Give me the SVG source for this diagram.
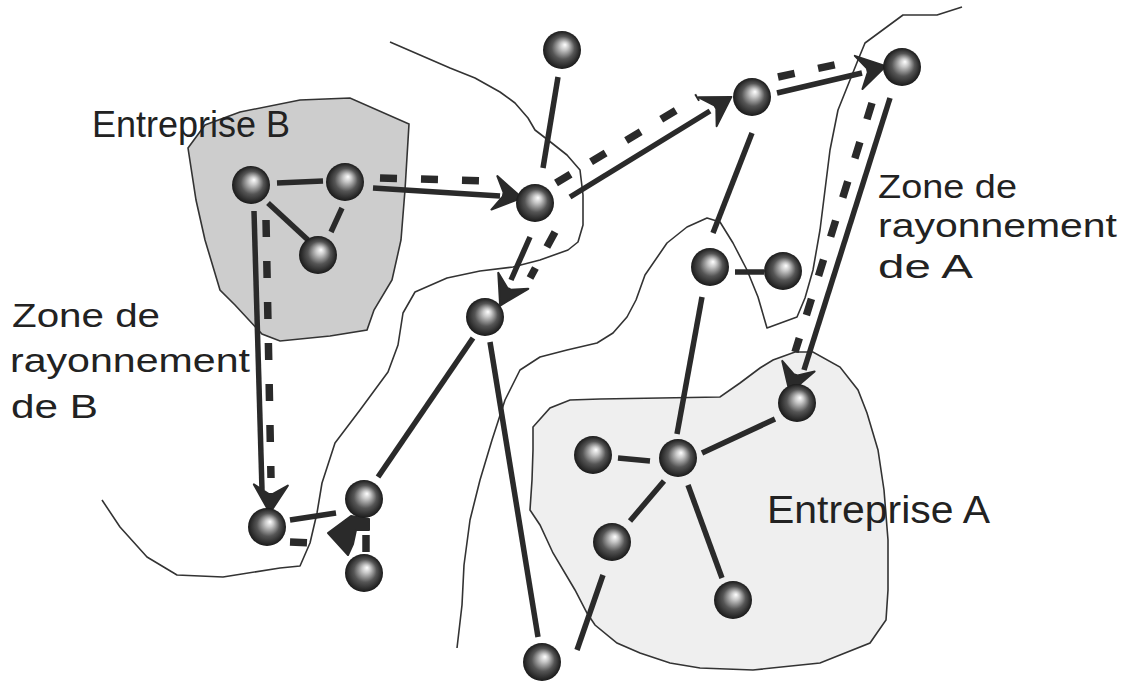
<svg xmlns="http://www.w3.org/2000/svg" xmlns:xlink="http://www.w3.org/1999/xlink" width="1129" height="686" viewBox="0 0 1129 686">
<style>
.bnd{fill:none;stroke:#333;stroke-width:1.6;stroke-linejoin:round}
.sol{fill:none;stroke:#2a2a2a;stroke-width:5.5;stroke-linecap:butt}
.dsh{fill:none;stroke:#2a2a2a;stroke-width:7.5;stroke-dasharray:17 24}
.ah{fill:#2a2a2a;stroke:#2a2a2a;stroke-width:2;stroke-linejoin:round}
.node{fill:url(#sph)}
.lbl{font-family:"Liberation Sans",Arial,sans-serif;fill:#222}
</style>
<defs>
<radialGradient id="sph" cx="50%" cy="50%" r="50%" fx="58%" fy="36%">
<stop offset="0" stop-color="#ffffff"/>
<stop offset="0.22" stop-color="#c8c8c8"/>
<stop offset="0.6" stop-color="#555555"/>
<stop offset="1" stop-color="#1a1a1a"/>
</radialGradient>
<path id="ah" d="M4,0 L-24,-17 L-15,-2 L-15,2 L-24,17 Z"/>
</defs>
<rect width="1129" height="686" fill="#ffffff"/>

<g id="regions">
<path id="entrepriseB" d="M188,148 L205,125 L240,112 L300,100 L350,98 L409,124 L405,190 L401,240 L392,280 L374,310 L367,330 L330,336 L280,341 L262,334 L235,305 L220,290 L205,240 L196,200 Z" fill="#cdcdcd" stroke="#333" stroke-width="1.6"/>
<path id="entrepriseA" d="M533,450 L533,427 L550,408 L570,400 L600,399 L720,397 L740,383 L760,368 L773,360 L795,352 L813,352 L840,367 L858,390 L867,413 L878,450 L884,490 L888,540 L888,590 L886,620 L870,643 L840,655 L820,663 L753,670 L700,668 L670,663 L640,653 L617,643 L595,625 L587,613 L575,590 L553,553 L540,525 L530,510 L532,480 Z" fill="#efefef" stroke="#333" stroke-width="1.6"/>
<path id="zoneB" class="bnd" d="M390,42 L420,55 L450,68 L475,78 L500,92 L515,103 L528,118 L535,130 L548,140 L567,155 L580,170 L583,195 L583,225 L578,242 L568,250 L540,260 L513,267 L480,271 L447,278 L415,292 L403,313 L398,345 L388,372 L360,410 L335,443 L322,483 L317,513 L310,543 L300,566 L280,568 L223,577 L177,575 L147,557 L120,527 L102,500"/>
<path id="zoneA" class="bnd" d="M457,648 L462,605 L464,565 L470,520 L480,480 L492,440 L505,400 L520,370 L540,357 L567,350 L597,343 L613,333 L627,317 L636,300 L645,275 L667,243 L687,227 L707,218 L720,222 L733,243 L747,270 L758,297 L767,328 L797,317 L805,298 L813,270 L820,230 L825,190 L830,150 L838,110 L848,85 L858,60 L865,43 L903,15 L937,15 L962,7"/>
</g>

<g id="connectors">
<line class="sol" x1="277" y1="183" x2="323" y2="181"/>
<line class="sol" x1="268" y1="203" x2="308" y2="240"/>
<line class="sol" x1="342" y1="208" x2="331" y2="232"/>
<line class="sol" x1="558" y1="77" x2="543" y2="168"/>
<line class="sol" x1="752" y1="133" x2="713" y2="233"/>
<line class="sol" x1="735" y1="272" x2="764" y2="272"/>
<line class="sol" x1="702" y1="297" x2="677" y2="434"/>
<line class="sol" x1="775" y1="419" x2="702" y2="453"/>
<line class="sol" x1="618" y1="458" x2="650" y2="461"/>
<line class="sol" x1="664" y1="481" x2="630" y2="521"/>
<line class="sol" x1="688" y1="485" x2="722" y2="578"/>
<line class="sol" x1="603" y1="575" x2="577" y2="650"/>
<line class="sol" x1="490" y1="342" x2="538" y2="637"/>
<line class="sol" x1="473" y1="338" x2="378" y2="477"/>
<line class="sol" x1="290" y1="520" x2="336" y2="513"/>

<line class="sol" x1="373" y1="188" x2="500" y2="196"/>
<line class="dsh" x1="380" y1="178" x2="490" y2="181"/>
<use href="#ah" class="ah" transform="translate(518,197) rotate(10)"/>

<line class="sol" x1="570" y1="197" x2="710" y2="111"/>
<line class="dsh" x1="556" y1="183" x2="698" y2="97"/>
<use href="#ah" class="ah" transform="translate(728,99) rotate(-32)"/>

<line class="sol" x1="777" y1="93" x2="862" y2="73"/>
<line class="dsh" x1="778" y1="77" x2="848" y2="62"/>
<use href="#ah" class="ah" transform="translate(882,67) rotate(-13)"/>

<line class="sol" x1="890" y1="98" x2="804" y2="370"/>
<line class="dsh" x1="872" y1="103" x2="795" y2="352"/>
<use href="#ah" class="ah" transform="translate(791,389) rotate(108)"/>

<line class="sol" x1="530" y1="237" x2="511" y2="280"/>
<line class="dsh" x1="555" y1="232" x2="530" y2="278"/>
<use href="#ah" class="ah" transform="translate(502,302) rotate(118)"/>

<line class="sol" x1="254" y1="211" x2="262" y2="490"/>
<line class="dsh" x1="266" y1="220" x2="271" y2="478"/>
<use href="#ah" class="ah" transform="translate(270,509) rotate(92)"/>

<line class="dsh" x1="290" y1="542" x2="314" y2="543"/>
<line class="dsh" x1="366" y1="552" x2="366" y2="530" stroke-dasharray="12 6"/>
<path class="ah" d="M351,516 L369,519 L369,530 L356,530 L353,544 L348,555 L328,533 Z"/>
</g>

<g id="nodes">
<g id="n-b1"><circle class="node" cx="251" cy="185" r="19"/></g>
<g id="n-b2"><circle class="node" cx="345" cy="182" r="19"/></g>
<g id="n-b3"><circle class="node" cx="318" cy="255" r="19"/></g>
<g id="n-top"><circle class="node" cx="562" cy="50" r="19"/></g>
<g id="n-c"><circle class="node" cx="535" cy="203" r="19"/></g>
<g id="n-n1"><circle class="node" cx="752" cy="97" r="19"/></g>
<g id="n-n2"><circle class="node" cx="902" cy="67" r="19"/></g>
<g id="n-m1"><circle class="node" cx="710" cy="267" r="19"/></g>
<g id="n-m2"><circle class="node" cx="783" cy="271" r="19"/></g>
<g id="n-l1"><circle class="node" cx="485" cy="317" r="19"/></g>
<g id="n-atop"><circle class="node" cx="797" cy="403" r="19"/></g>
<g id="n-acenter"><circle class="node" cx="678" cy="458" r="19"/></g>
<g id="n-aleft"><circle class="node" cx="593" cy="455" r="19"/></g>
<g id="n-alow"><circle class="node" cx="612" cy="542" r="19"/></g>
<g id="n-aright"><circle class="node" cx="733" cy="600" r="19"/></g>
<g id="n-bottom"><circle class="node" cx="542" cy="662" r="19"/></g>
<g id="n-sb"><circle class="node" cx="267" cy="527" r="19"/></g>
<g id="n-s1"><circle class="node" cx="364" cy="499" r="19"/></g>
<g id="n-s2"><circle class="node" cx="364" cy="573" r="19"/></g>
</g>

<g id="labels">
<text class="lbl" x="92" y="137" font-size="36" textLength="198" lengthAdjust="spacingAndGlyphs">Entreprise B</text>
<text class="lbl" x="767" y="523" font-size="39" textLength="223" lengthAdjust="spacingAndGlyphs">Entreprise A</text>
<text class="lbl" x="12" y="327" font-size="33" textLength="148" lengthAdjust="spacingAndGlyphs">Zone de</text>
<text class="lbl" x="10" y="372" font-size="33" textLength="240" lengthAdjust="spacingAndGlyphs">rayonnement</text>
<text class="lbl" x="11" y="418" font-size="33" textLength="87" lengthAdjust="spacingAndGlyphs">de B</text>
<text class="lbl" x="878" y="198" font-size="33" textLength="139" lengthAdjust="spacingAndGlyphs">Zone de</text>
<text class="lbl" x="878" y="237" font-size="33" textLength="239" lengthAdjust="spacingAndGlyphs">rayonnement</text>
<text class="lbl" x="878" y="278" font-size="33" textLength="95" lengthAdjust="spacingAndGlyphs">de A</text>
</g>
</svg>
